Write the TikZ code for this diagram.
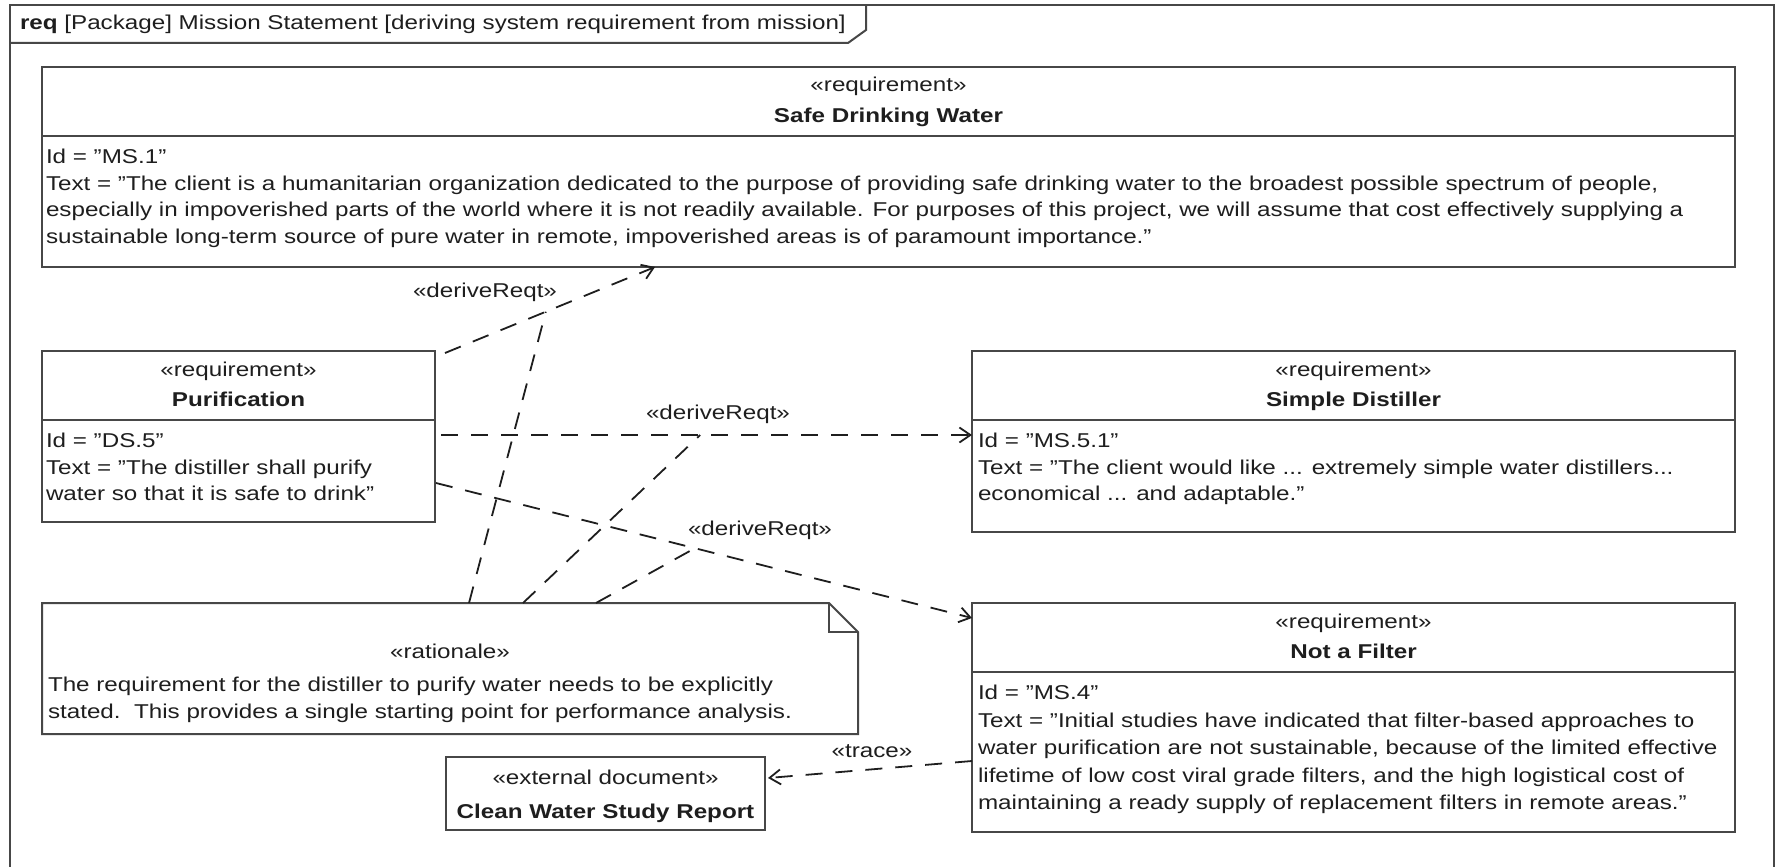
\documentclass[tikz,border=0pt]{standalone}
\usepackage{fontspec}
\setmainfont{Liberation Sans}[FakeStretch=1.21]
\usetikzlibrary{arrows.meta,calc}
\definecolor{ink}{HTML}{1E1E1E}
\definecolor{edge}{HTML}{474747}

\begin{document}
\begin{tikzpicture}[x=1pt,y=-1pt,
  every node/.style={inner sep=0pt, outer sep=0pt, text=ink},
  txt/.style={font=\fontsize{20}{26.5}\selectfont},
  box/.style={draw=edge, line width=2pt, rectangle, inner sep=0pt, outer sep=0pt},
  rule/.style={draw=edge, line width=2pt},
  body/.style={txt, align=left, anchor=north west},
  stereo/.style={txt, anchor=base},
  namefont/.style={font=\fontsize{20}{26.5}\selectfont\bfseries, anchor=base},
  lbl/.style={txt, anchor=center},
  dep/.style={draw=ink, line width=1.8pt, dash pattern=on 17pt off 13pt},
  arr/.style={dep, -{Straight Barb[length=11pt,width=15pt,line width=1.8pt]}},
]
\useasboundingbox (0,0) rectangle (1777,867);
\fill[white] (0,0) rectangle (1777,867);

% diagram frame with its name tab
\draw[rule] (10,867) -- (10,5) -- (1774,5) -- (1774,867);
\draw[rule] (10,43) -- (848,43) -- (866,30) -- (866,5);
\node[txt, anchor=base west] (frametitle) at (20,30)
  {\textbf{req} [Package] Mission Statement [deriving system requirement from mission]};

% requirement: Safe Drinking Water
\node[box, minimum width=1693pt, minimum height=200pt] (sdw) at (888.5,167) {};
\draw[rule] ($(sdw.north west)+(0,69)$) -- ($(sdw.north east)+(0,69)$);
\node[stereo] (sdw-st) at ($(sdw.north)+(0,25)$) {«requirement»};
\node[namefont] (sdw-nm) at ($(sdw.north)+(0,55)$) {Safe Drinking Water};
\node[body] (sdw-tx) at ($(sdw.north west)+(4,82.4)$)
  {Id = "MS.1"\\
   Text = "The client is a humanitarian organization dedicated to the purpose of providing safe drinking water to the broadest possible spectrum of people,\\
   especially in impoverished parts of the world where it is not readily available. For purposes of this project, we will assume that cost effectively supplying a\\
   sustainable long-term source of pure water in remote, impoverished areas is of paramount importance."};

% requirement: Purification
\node[box, minimum width=393pt, minimum height=171pt] (purif) at (238.5,436.5) {};
\draw[rule] ($(purif.north west)+(0,69)$) -- ($(purif.north east)+(0,69)$);
\node[stereo] (purif-st) at ($(purif.north)+(0,25)$) {«requirement»};
\node[namefont] (purif-nm) at ($(purif.north)+(0,55)$) {Purification};
\node[body] (purif-tx) at ($(purif.north west)+(4,82.4)$)
  {Id = "DS.5"\\
   Text = "The distiller shall purify\\
   water so that it is safe to drink"};

% requirement: Simple Distiller
\node[box, minimum width=763pt, minimum height=181pt] (sd) at (1353.5,441.5) {};
\draw[rule] ($(sd.north west)+(0,69)$) -- ($(sd.north east)+(0,69)$);
\node[stereo] (sd-st) at ($(sd.north)+(0,25)$) {«requirement»};
\node[namefont] (sd-nm) at ($(sd.north)+(0,55)$) {Simple Distiller};
\node[body] (sd-tx) at ($(sd.north west)+(6,82.4)$)
  {Id = "MS.5.1"\\
   Text = "The client would like ... extremely simple water distillers...\\
   economical ... and adaptable."};

% requirement: Not a Filter
\node[box, minimum width=763pt, minimum height=229pt] (nafilter) at (1353.5,717.5) {};
\draw[rule] ($(nafilter.north west)+(0,69)$) -- ($(nafilter.north east)+(0,69)$);
\node[stereo] (naf-st) at ($(nafilter.north)+(0,25)$) {«requirement»};
\node[namefont] (naf-nm) at ($(nafilter.north)+(0,55)$) {Not a Filter};
\node[body, font=\fontsize{20}{27.5}\selectfont] (naf-tx) at ($(nafilter.north west)+(6,82.4)$)
  {Id = "MS.4"\\
   Text = "Initial studies have indicated that filter-based approaches to\\
   water purification are not sustainable, because of the limited effective\\
   lifetime of low cost viral grade filters, and the high logistical cost of\\
   maintaining a ready supply of replacement filters in remote areas."};

% rationale note with folded corner
\node[minimum width=816pt, minimum height=131pt] (rat) at (450,668.5) {};
\draw[rule, fill=white] (rat.north west) -- ($(rat.north east)+(-29,0)$)
  -- ($(rat.north east)+(0,29)$) -- (rat.south east) -- (rat.south west) -- cycle;
\draw[rule] ($(rat.north east)+(-29,0)$) -- ($(rat.north east)+(-29,29)$)
  -- ($(rat.north east)+(0,29)$);
\node[stereo] (rat-st) at ($(rat.north)+(0,55)$) {«rationale»};
\node[body] (rat-tx) at ($(rat.north west)+(6,74.4)$)
  {The requirement for the distiller to purify water needs to be explicitly\\
   stated.~~This provides a single starting point for performance analysis.};

% external document
\node[box, minimum width=319pt, minimum height=73pt] (clean) at (605.5,793.5) {};
\node[stereo] (clean-st) at ($(clean.north)+(0,27)$) {«external document»};
\node[namefont] (clean-nm) at ($(clean.north)+(0,61)$) {Clean Water Study Report};

% deriveReqt dependencies
\coordinate (a0) at ($(purif.north east)+(10,2)$);
\coordinate (a1) at ($(sdw.south west)+(613,0)$);
\coordinate (b0) at ($(purif.east)+(6,-1.5)$);
\coordinate (b1) at ($(sd.west)+(0,-6.5)$);
\coordinate (c0) at ($(purif.east)+(1,46.5)$);
\coordinate (c1) at ($(nafilter.north west)+(0,15)$);
\draw[arr] (a0) -- (a1);
\draw[arr] (b0) -- (b1);
\draw[arr] (c0) -- (c1);
\node[lbl] (a-lbl) at (485,292) {«deriveReqt»};
\node[lbl] (b-lbl) at (718,414) {«deriveReqt»};
\node[lbl] (c-lbl) at (760,530) {«deriveReqt»};

% rationale anchored to each dependency
\draw[dep] ($(rat.north west)+(427,0)$) -- ($(a0)!0.48!(a1)$);
\draw[dep] ($(rat.north west)+(481,0)$) -- ($(b0)!0.488!(b1)$);
\draw[dep] ($(rat.north west)+(554,0)$) -- ($(c0)!0.483!(c1)$);

% trace to the external document
\draw[arr] ($(nafilter.west)+(0,43.5)$) -- ($(clean.east)+(3,-15.5)$);
\node[lbl] (t-lbl) at (872,751) {«trace»};
\end{tikzpicture}
\end{document}
